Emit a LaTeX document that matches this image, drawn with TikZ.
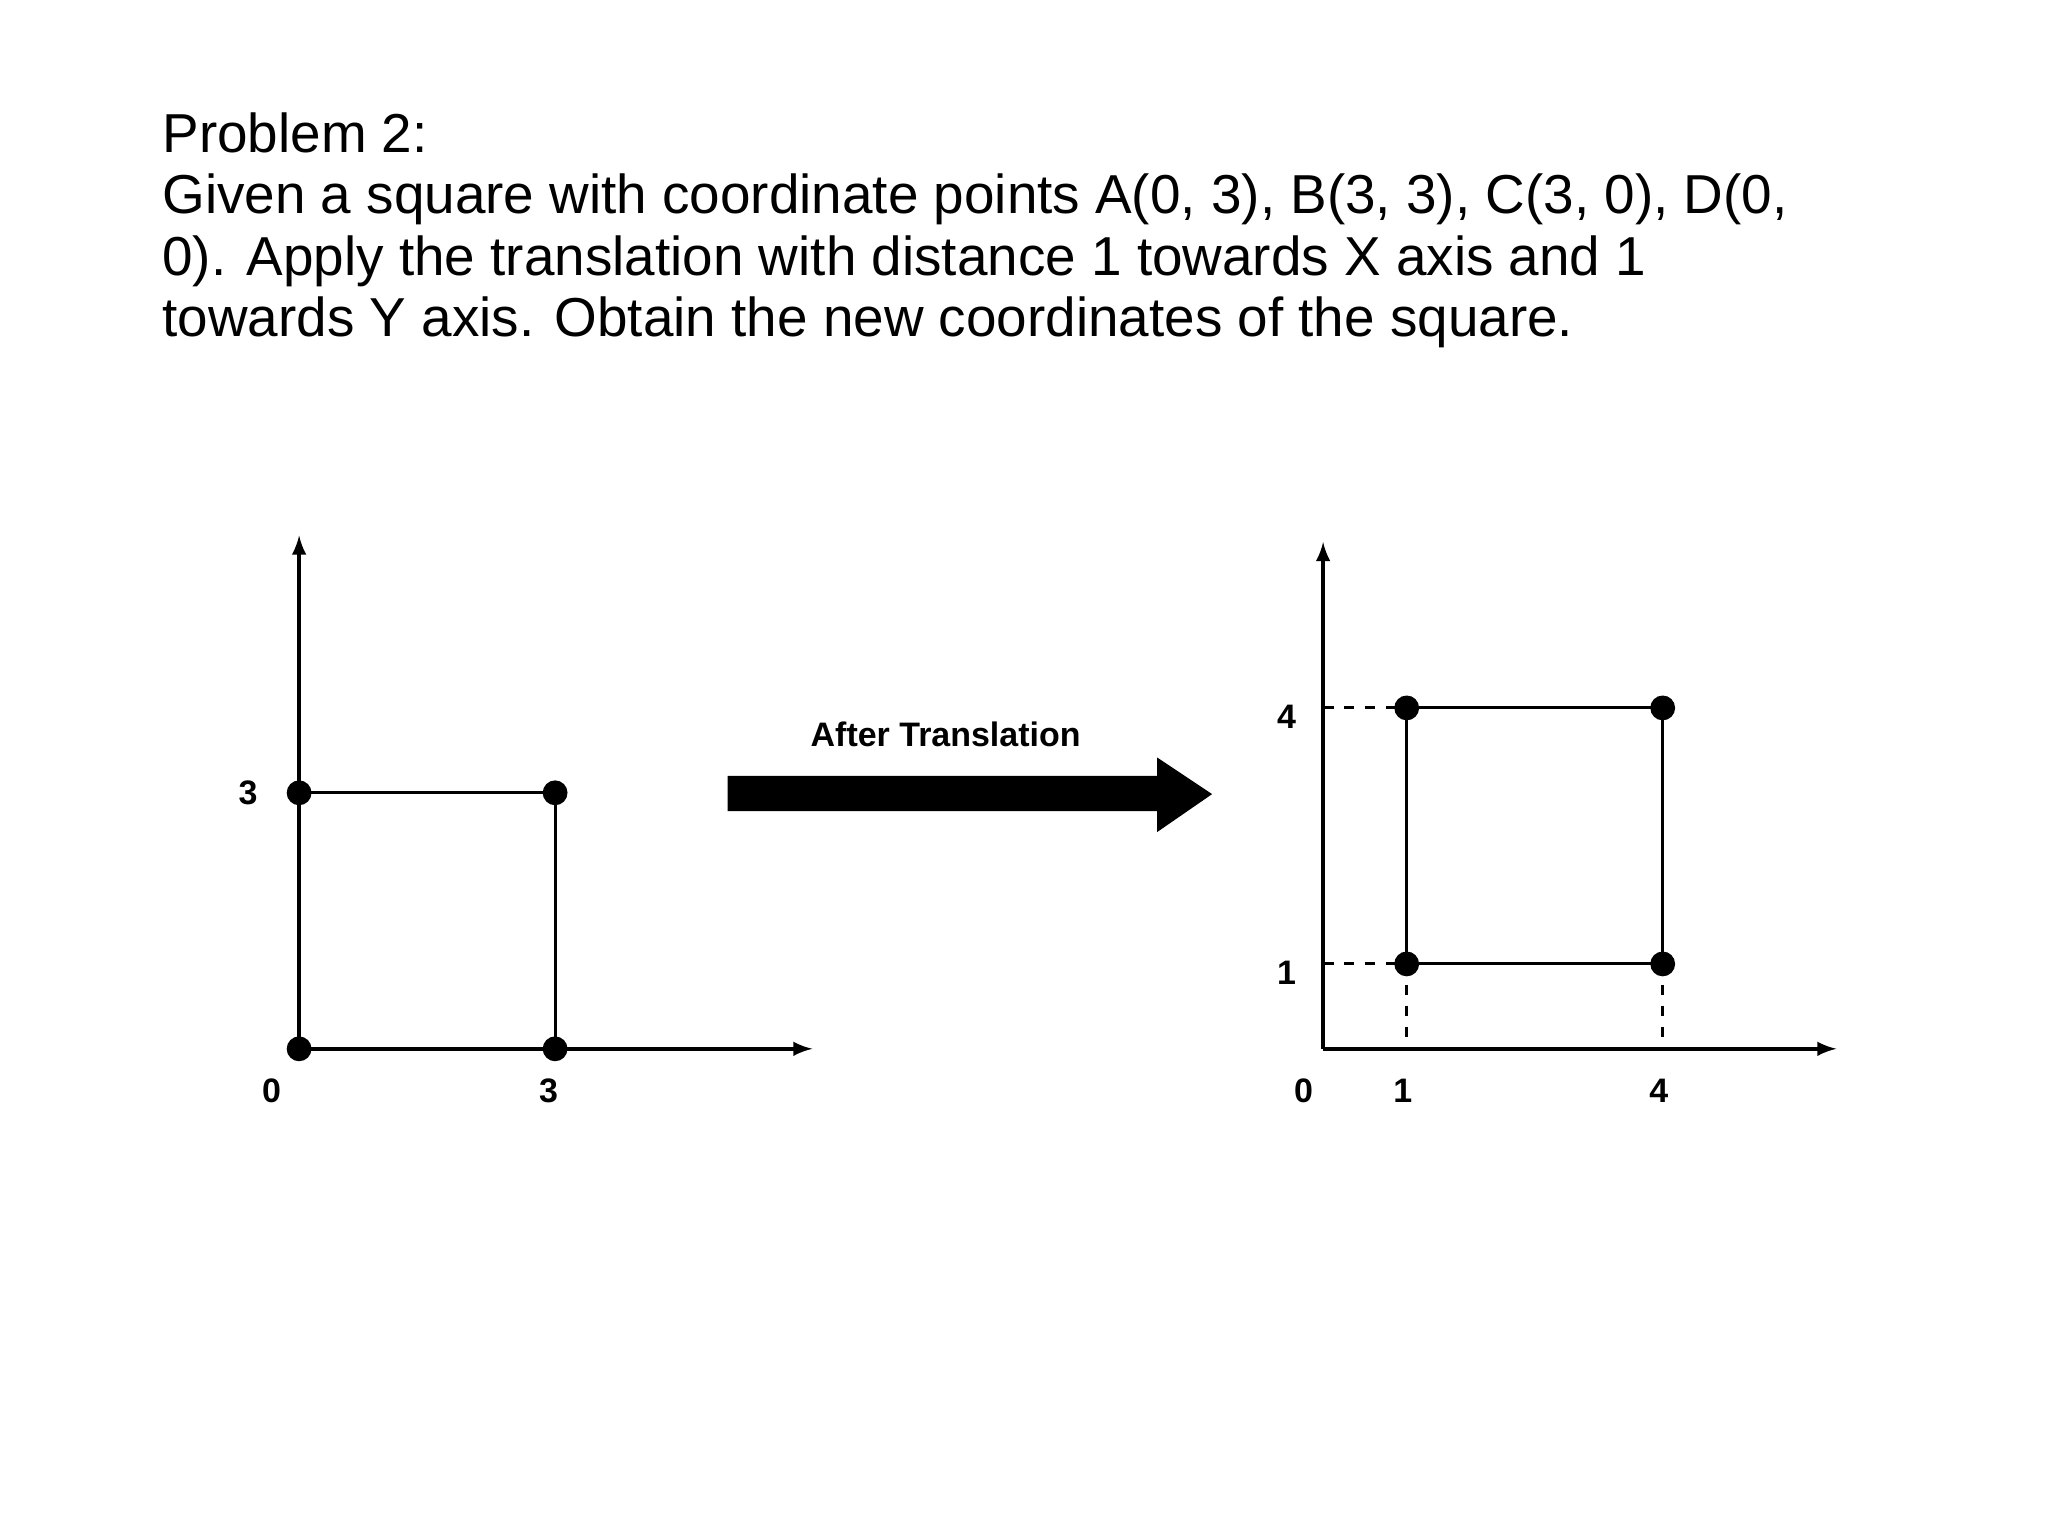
\documentclass[tikz,border=0pt]{standalone}
\usepackage{fontspec}
\setmainfont{Liberation Sans}
\begin{document}
\begin{tikzpicture}[x=0.5pt,y=-0.5pt,
  ax/.style={line width=1.5pt,-latex},
  sq/.style={line width=1.2pt},
  dot/.style={circle,fill=black,inner sep=0pt,minimum size=9.5pt},
  lab/.style={font=\bfseries\fontsize{13}{15}\selectfont},
  dsh/.style={line width=1.1pt,dash pattern=on 4pt off 4pt}]
\useasboundingbox (0,0) rectangle (1568,1176);
\node[anchor=north west,align=left,inner sep=0pt,font=\fontsize{21}{23.5}\selectfont] (title) at (124,86)
{Problem 2:\\Given a square with coordinate points A(0, 3), B(3, 3), C(3, 0), D(0,\\0). Apply the translation with distance 1 towards X axis and 1\\towards Y axis. Obtain the new coordinates of the square.};
% left
\coordinate (o1) at (229,803);
\coordinate (yt1) at (229,410);
\coordinate (xe1) at (622,803);
\draw[ax] (o1) -- (yt1);
\draw[ax] (o1) -- (xe1);
\node[dot] (D) at (229,803) {};
\node[dot] (C) at (425,803) {};
\node[dot] (B) at (425,607) {};
\node[dot] (A) at (229,607) {};
\draw[sq] (A.center) -- (B.center) -- (C.center) -- (D.center) -- cycle;
\node[lab] (l3y) at (190,607) {3};
\node[lab] (l0) at (208,835) {0};
\node[lab] (l3x) at (420,835) {3};
% arrow
\fill (557,594) -- (886,594) -- (886,580) -- (928,608) -- (886,637) -- (886,621) -- (557,621) -- cycle;
\node[lab] (at) at (724,562) {After Translation};
% right
\coordinate (o2) at (1013,803);
\coordinate (yt2) at (1013,415);
\coordinate (xe2) at (1406,803);
\draw[ax] (o2) -- (yt2);
\draw[ax] (o2) -- (xe2);
\node[dot] (A2) at (1077,542) {};
\node[dot] (B2) at (1273,542) {};
\node[dot] (C2) at (1273,738) {};
\node[dot] (D2) at (1077,738) {};
\draw[sq] (A2.center) -- (B2.center) -- (C2.center) -- (D2.center) -- cycle;
\coordinate (y4) at (1013,542);
\coordinate (y1) at (1013,738);
\coordinate (x1) at (1077,803);
\coordinate (x4) at (1273,803);
\draw[dsh] (y4) -- (A2.center);
\draw[dsh] (y1) -- (D2.center);
\draw[dsh] (D2.center) -- (x1);
\draw[dsh] (C2.center) -- (x4);
\node[lab] (r4) at (985,549) {4};
\node[lab] (r1) at (985,745) {1};
\node[lab] (r0) at (998,835) {0};
\node[lab] (rx1) at (1074,835) {1};
\node[lab] (rx4) at (1270,835) {4};
\end{tikzpicture}
\end{document}
